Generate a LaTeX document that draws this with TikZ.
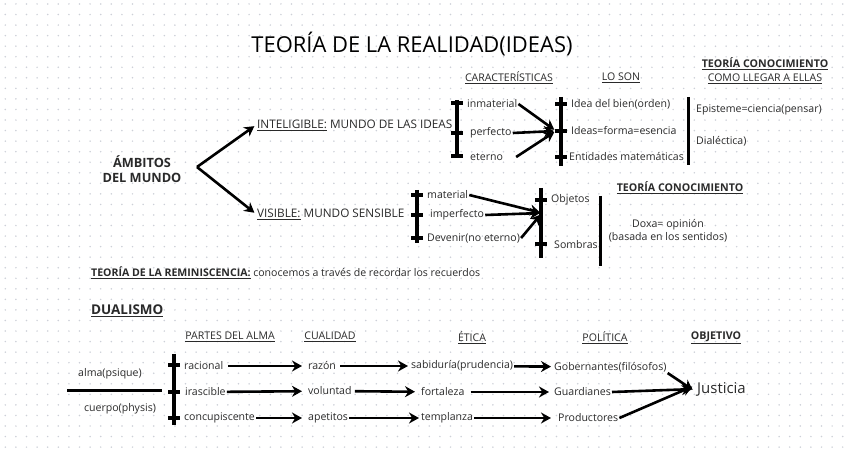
\documentclass[tikz,border=0pt]{standalone}
\usepackage{fontspec}
\setmainfont{Open Sans}
\usetikzlibrary{arrows.meta}
\definecolor{texto}{HTML}{2A2A2A}
\definecolor{punto}{HTML}{CDD0D8}
\tikzset{
  txt/.style={anchor=west,inner sep=1bp,text=texto,font=\fontsize{10.6}{12.5}\selectfont},
  cab/.style={inner sep=1bp,text=texto,font=\fontsize{10.6}{12.5}\selectfont},
  negrita/.style={cab,font=\fontsize{10.7}{12.5}\selectfont\bfseries},
  grande/.style={anchor=west,inner sep=1bp,text=texto,font=\fontsize{11.8}{14}\selectfont},
  flecha/.style={line width=2.6bp,-{Stealth[length=10bp,width=11bp]},shorten >=2bp},
  barra/.style={line width=3.4bp},
}
\begin{document}
\begin{tikzpicture}[x=1bp,y=-1bp]
\useasboundingbox (0,0) rectangle (848,453);
\fill[white] (0,0) rectangle (848,453);
% Punktraster
\foreach \i in {0,...,79}
  \foreach \j in {0,...,42}
    \fill[punto] (5.3+\i*10.6,4+\j*10.55) circle (0.85);
% Titel
\node[text=black,font=\fontsize{22}{26}\selectfont] (titulo) at (412,44) {TEORÍA DE LA REALIDAD(IDEAS)};
% Kopfzeilen oben
\node[cab] (caract) at (509,78) {\underline{CARACTERÍSTICAS}};
\node[cab] (loson) at (621,78) {\underline{LO SON}};
\node[negrita] (teoria1) at (765,64) {\underline{TEORÍA CONOCIMIENTO}};
\node[cab] (comollegar) at (765,79) {\underline{COMO LLEGAR A ELLAS}};
% Ambitos
\node[cab,align=center,font=\fontsize{12.8}{15}\selectfont\bfseries] (ambitos) at (142,169) {ÁMBITOS\\DEL MUNDO};
\coordinate (vertice) at (197,167);
\node[grande] (inteligible) at (256,125) {\underline{INTELIGIBLE:} MUNDO DE LAS IDEAS};
\node[grande] (visible) at (256,214) {\underline{VISIBLE:} MUNDO SENSIBLE};
\draw[flecha] (vertice) -- (inteligible.west);
\draw[flecha] (vertice) -- (visible.west);
% Inteligible: Eigenschaften
\draw[barra] (457,100) -- (457,158);
\foreach \y in {103,133,156} \draw[barra] (451,\y) -- (463,\y);
\node[txt] (inmaterial) at (466,104) {inmaterial};
\node[txt] (perfecto) at (469,133) {perfecto};
\node[txt] (eterno) at (469,157) {eterno};
\coordinate (c1) at (556,131);
\draw[flecha] (inmaterial.east) -- (c1);
\draw[flecha] (perfecto.east) -- (c1);
\draw[flecha] ([xshift=12bp]eterno.east) -- (c1);
\draw[barra] (561,97) -- (561,166);
\foreach \y in {104,131,157} \draw[barra] (555,\y) -- (567,\y);
\node[txt] (bien) at (570,104) {Idea del bien(orden)};
\node[txt] (ideas) at (570,131) {Ideas=forma=esencia};
\node[txt] (entidades) at (568,157) {Entidades matemáticas};
\draw[line width=3bp] (688,97) -- (688,165);
\node[txt] (episteme) at (695,110) {Episteme=ciencia(pensar)};
\node[txt] (dialectica) at (695,141) {Dialéctica)};
% Visible: Eigenschaften
\draw[barra] (417,190) -- (417,243);
\foreach \y in {195,215,238} \draw[barra] (411,\y) -- (423,\y);
\node[txt] (material) at (426,195) {material};
\node[txt] (imperfecto) at (429,215) {imperfecto};
\node[txt] (devenir) at (426,238) {Devenir(no eterno)};
\coordinate (c2) at (542,213);
\draw[flecha] (material.east) -- (c2);
\draw[flecha] (imperfecto.east) -- (c2);
\draw[flecha] (devenir.east) -- (c2);
\draw[barra] (541,188) -- (541,258);
\foreach \y in {200,244} \draw[barra] (535,\y) -- (547,\y);
\node[txt] (objetos) at (550,200) {Objetos};
\node[txt] (sombras) at (553,245) {Sombras};
\draw[line width=3bp] (600,196) -- (600,266);
\node[negrita] (teoria2) at (680,188) {\underline{TEORÍA CONOCIMIENTO}};
\node[cab,align=center] (doxa) at (668,231) {Doxa= opinión\\(basada en los sentidos)};
% Reminiszenz
\node[txt] (reminiscencia) at (90,273) {\textbf{\underline{TEORÍA DE LA REMINISCENCIA:}} conocemos a través de recordar los recuerdos};
% Dualismus
\node[txt,font=\fontsize{13.5}{16}\selectfont\bfseries] (dualismo) at (90,311) {\underline{DUALISMO}};
\node[cab] (partes) at (230,337) {\underline{PARTES DEL ALMA}};
\node[cab] (cualidad) at (330,337) {\underline{CUALIDAD}};
\node[cab] (etica) at (472,338) {\underline{ÉTICA}};
\node[cab] (politica) at (605,338) {\underline{POLÍTICA}};
\node[negrita] (objetivo) at (716,338) {\underline{OBJETIVO}};
\node[cab] (alma) at (110,374) {alma(psique)};
\node[cab] (cuerpo) at (120,409) {cuerpo(physis)};
\draw[line width=3bp] (67,390) -- (162,390);
\draw[barra] (174,354) -- (174,425);
\foreach \y in {365,392,418} \draw[barra] (168,\y) -- (180,\y);
\node[txt] (racional) at (183,366) {racional};
\node[txt] (irascible) at (184,392) {irascible};
\node[txt] (concupiscente) at (183,418) {concupiscente};
\node[txt] (razon) at (307,366) {razón};
\node[txt] (voluntad) at (307,391) {voluntad};
\node[txt] (apetitos) at (307,418) {apetitos};
\node[txt] (sabiduria) at (410,366) {sabiduría(prudencia)};
\node[txt] (fortaleza) at (420,392) {fortaleza};
\node[txt] (templanza) at (420,418) {templanza};
\node[txt] (gobernantes) at (553,367) {Gobernantes(filósofos)};
\node[txt] (guardianes) at (553,392) {Guardianes};
\node[txt] (productores) at (557,418) {Productores};
\node[grande,font=\fontsize{15}{18}\selectfont] (justicia) at (696,389) {Justicia};
\draw[flecha,shorten <=4bp,shorten >=5bp] (racional) -- (razon);
\draw[flecha,shorten >=5bp] (irascible) -- (voluntad);
\draw[flecha,shorten >=5bp] (concupiscente) -- (apetitos);
\draw[flecha,shorten <=3bp] (razon) -- (sabiduria);
\draw[flecha,shorten <=2bp,shorten >=5bp] (voluntad) -- (fortaleza);
\draw[flecha,shorten >=1bp] (apetitos) -- (templanza);
\draw[flecha] (sabiduria) -- (gobernantes);
\draw[flecha,shorten <=5bp,shorten >=4bp] (fortaleza) -- (guardianes);
\draw[flecha,shorten >=6bp] (templanza) -- (productores);
\draw[flecha,shorten >=4bp] (gobernantes.south east) -- ([yshift=-3bp]justicia.west);
\draw[flecha,shorten >=4bp] (guardianes.east) -- (justicia.west);
\draw[flecha,shorten >=4bp] (productores.east) -- ([yshift=4bp]justicia.west);
\end{tikzpicture}
\end{document}
